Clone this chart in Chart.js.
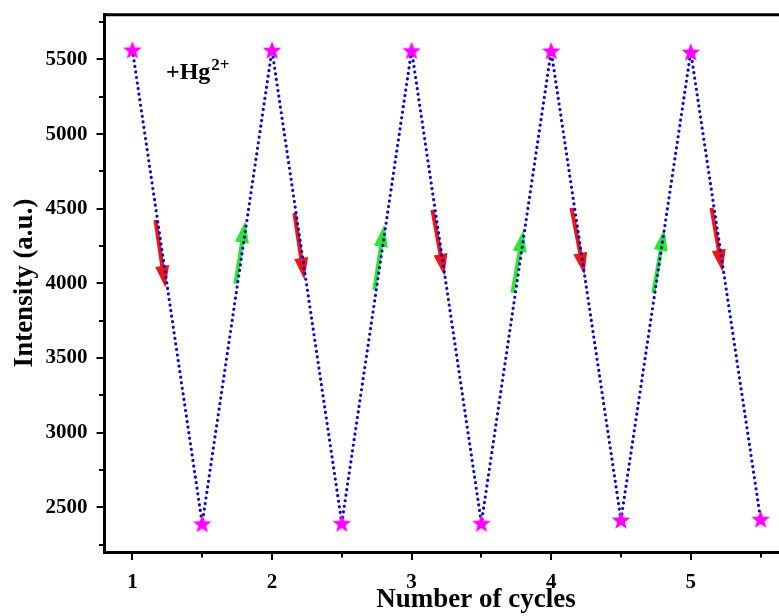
<!DOCTYPE html>
<html><head><meta charset="utf-8">
<script src="https://cdn.jsdelivr.net/npm/chart.js@4"></script>
<style>html,body{margin:0;padding:0;background:#fff;overflow:hidden}#wrap{width:779px;height:616px;position:relative}</style>
</head><body><div id="wrap"><canvas id="c" width="779" height="616"></canvas></div>
<script>
// ---- data ----
const cycles = [1, 1.5, 2, 2.5, 3, 3.5, 4, 4.5, 5, 5.5];
const intensity = [5565, 2390, 5563, 2393, 5560, 2393, 5558, 2415, 5550, 2420];
const xTickValues = [1, 2, 3, 4, 5];
const xMinorTicks = [1.5, 2.5, 3.5, 4.5, 5.5];
const yTickValues = [2500, 3000, 3500, 4000, 4500, 5000, 5500];
const yMinorTicks = [2250, 2750, 3250, 3750, 4250, 4750, 5250, 5750];
// arrows: [tailX, tailY, tipX, tipY] in data units
const redArrows = [
  [1.176, 4425, 1.247, 3970],
  [2.171, 4472, 2.243, 4024],
  [3.160, 4492, 3.246, 4050],
  [4.156, 4506, 4.249, 4058],
  [5.159, 4506, 5.238, 4078]
];
const greenArrows = [
  [1.749, 3997, 1.820, 4418],
  [2.744, 3957, 2.815, 4392],
  [3.733, 3937, 3.812, 4358],
  [4.743, 3937, 4.822, 4365]
];
const xTitle = 'Number of cycles';
const yTitle = 'Intensity (a.u.)';
const ionLabel = '+Hg';
const ionCharge = '2+';

const FONT = '"Liberation Serif", "Times New Roman", serif';

// star point image
function makeStar(r, color) {
  const c = document.createElement('canvas');
  const s = Math.ceil(r * 2 + 2);
  c.width = s; c.height = s;
  const g = c.getContext('2d');
  const cx = s / 2, cy = s / 2 + r * 0.09;
  g.beginPath();
  for (let i = 0; i < 10; i++) {
    const rad = i % 2 === 0 ? r : r * 0.42;
    const a = -Math.PI / 2 + i * Math.PI / 5;
    const px = cx + rad * Math.cos(a), py = cy + rad * Math.sin(a);
    if (i === 0) g.moveTo(px, py); else g.lineTo(px, py);
  }
  g.closePath();
  g.fillStyle = color;
  g.fill();
  return c;
}
const starImg = makeStar(9.8, '#ff00ff');

function drawArrow(ctx, x0, y0, x1, y1, color) {
  const dx = x1 - x0, dy = y1 - y0;
  const len = Math.hypot(dx, dy);
  const ux = dx / len, uy = dy / len;
  const headLen = 22, headHalf = 7;
  const bx = x1 - ux * headLen, by = y1 - uy * headLen;
  ctx.save();
  ctx.strokeStyle = color; ctx.fillStyle = color;
  ctx.lineWidth = 4; ctx.lineCap = 'butt';
  ctx.beginPath(); ctx.moveTo(x0, y0); ctx.lineTo(bx + ux * 2, by + uy * 2); ctx.stroke();
  ctx.beginPath();
  ctx.moveTo(x1, y1);
  ctx.lineTo(bx - uy * headHalf, by + ux * headHalf);
  ctx.lineTo(bx + uy * headHalf, by - ux * headHalf);
  ctx.closePath(); ctx.fill();
  ctx.restore();
}

const decorPlugin = {
  id: 'decor',
  beforeDatasetsDraw(chart) {
    const ctx = chart.ctx, xs = chart.scales.x, ys = chart.scales.y;
    redArrows.forEach(a => drawArrow(ctx, xs.getPixelForValue(a[0]) - 1.5, ys.getPixelForValue(a[1]), xs.getPixelForValue(a[2]) - 1.5, ys.getPixelForValue(a[3]), '#f01414'));
    greenArrows.forEach(a => drawArrow(ctx, xs.getPixelForValue(a[0]) - 1.5, ys.getPixelForValue(a[1]), xs.getPixelForValue(a[2]) - 1.5, ys.getPixelForValue(a[3]), '#2ee62e'));
  },
  afterDraw(chart) {
    const ctx = chart.ctx, xs = chart.scales.x, ys = chart.scales.y, ca = chart.chartArea;
    ctx.save();
    ctx.strokeStyle = '#000';
    // top border
    ctx.lineWidth = 3;
    ctx.beginPath(); ctx.moveTo(ca.left - 1.5, ca.top); ctx.lineTo(ca.right + 2, ca.top); ctx.stroke();
    // minor ticks
    ctx.lineWidth = 2;
    xMinorTicks.forEach(v => {
      const p = Math.round(xs.getPixelForValue(v));
      ctx.beginPath(); ctx.moveTo(p, ca.bottom); ctx.lineTo(p, ca.bottom + 5.5); ctx.stroke();
    });
    yMinorTicks.forEach(v => {
      const p = Math.round(ys.getPixelForValue(v));
      ctx.beginPath(); ctx.moveTo(ca.left, p); ctx.lineTo(ca.left - 5.5, p); ctx.stroke();
    });
    // titles
    ctx.fillStyle = '#000';
    ctx.font = 'bold 27px ' + FONT;
    ctx.textAlign = 'center'; ctx.textBaseline = 'middle';
    ctx.fillText(xTitle, 476, 600);
    ctx.save();
    ctx.translate(25, 283); ctx.rotate(-Math.PI / 2);
    ctx.fillText(yTitle, 0, 0);
    ctx.restore();
    // ion label
    ctx.textAlign = 'left'; ctx.textBaseline = 'alphabetic';
    ctx.font = 'bold 24px ' + FONT;
    ctx.fillText(ionLabel, 166, 79);
    const w = ctx.measureText(ionLabel).width;
    ctx.font = 'bold 17px ' + FONT;
    ctx.fillText(ionCharge, 166 + w + 1, 70);
    ctx.restore();
  }
};

new Chart(document.getElementById('c'), {
  type: 'line',
  data: {
    datasets: [{
      data: cycles.map((x, i) => ({ x: x, y: intensity[i] })),
      borderColor: '#0808c8',
      borderWidth: 3.2,
      borderDash: [0.01, 5.6],
      borderCapStyle: 'round',
      tension: 0,
      pointStyle: starImg,
      pointRadius: 9,
      pointHoverRadius: 9,
      clip: false
    }]
  },
  options: {
    responsive: false,
    animation: false,
    devicePixelRatio: 1,
    events: [],
    layout: { autoPadding: false, padding: { top: 14.7, right: 0, left: 0, bottom: 0 } },
    plugins: { legend: { display: false }, tooltip: { enabled: false } },
    scales: {
      x: {
        type: 'linear',
        min: 0.8,
        max: 5.632,
        afterBuildTicks(s) { s.ticks = xTickValues.map(v => ({ value: v })); },
        afterFit(s) { s.height = 64; s.paddingLeft = 0; s.paddingRight = 0; },
        grid: { display: true, drawOnChartArea: false, drawTicks: true, tickLength: 8, lineWidth: 2, color: '#000' },
        border: { display: true, width: 3, color: '#000' },
        ticks: { color: '#000', padding: 10, maxRotation: 0, autoSkip: false, callback: v => String(v), font: { family: FONT, size: 21, weight: 'bold' } }
      },
      y: {
        type: 'linear',
        min: 2200,
        max: 5800,
        afterBuildTicks(s) { s.ticks = yTickValues.map(v => ({ value: v })); },
        afterFit(s) { s.width = 104.5; s.paddingTop = 0; s.paddingBottom = 0; },
        grid: { display: true, drawOnChartArea: false, drawTicks: true, tickLength: 8, lineWidth: 2, color: '#000' },
        border: { display: true, width: 3, color: '#000' },
        ticks: { color: '#000', padding: 9, autoSkip: false, callback: v => String(v), font: { family: FONT, size: 21, weight: 'bold' } }
      }
    }
  },
  plugins: [decorPlugin]
});
</script></body></html>
